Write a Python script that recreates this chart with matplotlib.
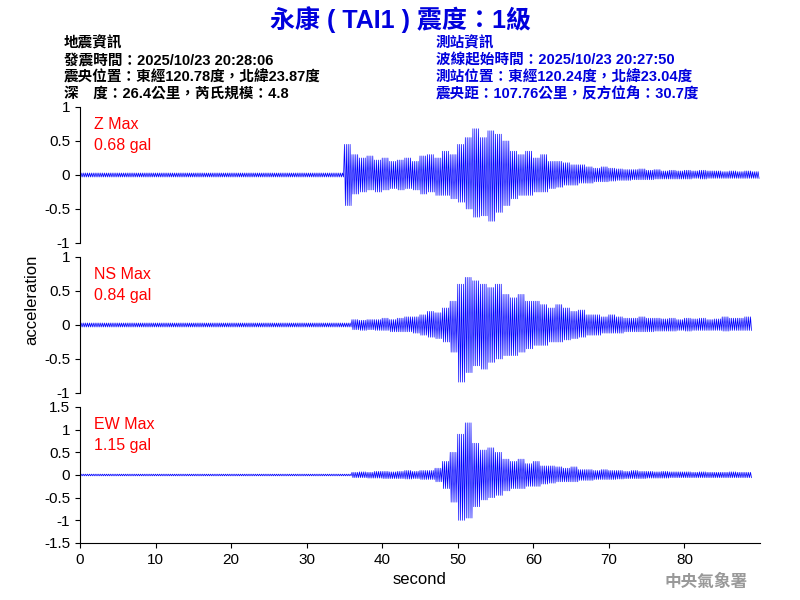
import numpy as np
import matplotlib.pyplot as plt

plt.rcParams['font.family'] = ['Liberation Sans', 'Noto Sans CJK TC', 'DejaVu Sans']

# per-second peak values (0..89 s)
z_max = ([0.03] * 35 + [0.45, 0.30, 0.25, 0.28, 0.22, 0.25, 0.20, 0.22, 0.25, 0.20,
         0.28, 0.30, 0.25, 0.35, 0.30, 0.45, 0.55, 0.68, 0.55, 0.65,
         0.60, 0.50, 0.35, 0.30, 0.35, 0.25, 0.30, 0.20, 0.20, 0.18,
         0.15, 0.15, 0.12, 0.10, 0.12, 0.10, 0.09, 0.08, 0.08, 0.09,
         0.07, 0.08, 0.06, 0.07, 0.06, 0.07, 0.06, 0.07, 0.06, 0.06, 0.05, 0.06, 0.05, 0.06, 0.05])
z_min = ([-0.03] * 35 + [-0.45, -0.28, -0.25, -0.22, -0.25, -0.22, -0.20, -0.22, -0.20, -0.22,
         -0.28, -0.25, -0.30, -0.30, -0.35, -0.40, -0.50, -0.62, -0.60, -0.68,
         -0.55, -0.45, -0.35, -0.30, -0.30, -0.25, -0.25, -0.20, -0.18, -0.15,
         -0.15, -0.12, -0.12, -0.10, -0.10, -0.09, -0.08, -0.08, -0.07, -0.07,
         -0.07, -0.06, -0.06, -0.06, -0.06, -0.06, -0.05, -0.06, -0.05, -0.05, -0.05, -0.05, -0.05, -0.05, -0.05])
ns_max = ([0.03] * 36 + [0.08, 0.07, 0.08, 0.08, 0.10, 0.08, 0.10, 0.12, 0.12,
          0.15, 0.20, 0.18, 0.25, 0.35, 0.60, 0.70, 0.65, 0.60, 0.55,
          0.60, 0.45, 0.40, 0.45, 0.35, 0.35, 0.30, 0.25, 0.30, 0.25,
          0.20, 0.22, 0.15, 0.15, 0.12, 0.15, 0.12, 0.10, 0.10, 0.12,
          0.10, 0.10, 0.09, 0.10, 0.08, 0.10, 0.09, 0.10, 0.08, 0.09, 0.12, 0.10, 0.10, 0.12])
ns_min = ([-0.03] * 36 + [-0.07, -0.08, -0.07, -0.08, -0.08, -0.10, -0.10, -0.10, -0.12,
          -0.15, -0.18, -0.20, -0.25, -0.40, -0.84, -0.70, -0.60, -0.65, -0.55,
          -0.50, -0.45, -0.45, -0.40, -0.35, -0.30, -0.30, -0.25, -0.25, -0.22,
          -0.20, -0.18, -0.15, -0.15, -0.12, -0.12, -0.12, -0.10, -0.10, -0.10,
          -0.10, -0.09, -0.09, -0.09, -0.08, -0.09, -0.08, -0.08, -0.08, -0.08, -0.09, -0.08, -0.08, -0.08])
ew_max = ([0.02] * 36 + [0.06, 0.07, 0.06, 0.08, 0.08, 0.07, 0.08, 0.10, 0.08,
          0.10, 0.10, 0.15, 0.30, 0.50, 0.90, 1.15, 0.70, 0.55, 0.60,
          0.50, 0.35, 0.30, 0.35, 0.25, 0.30, 0.20, 0.20, 0.18, 0.15,
          0.18, 0.12, 0.12, 0.10, 0.12, 0.10, 0.10, 0.08, 0.10, 0.08,
          0.08, 0.07, 0.08, 0.07, 0.07, 0.07, 0.06, 0.07, 0.06, 0.06, 0.06, 0.07, 0.06, 0.06])
ew_min = ([-0.02] * 36 + [-0.06, -0.06, -0.07, -0.07, -0.08, -0.08, -0.08, -0.09, -0.08,
          -0.10, -0.10, -0.15, -0.30, -0.60, -1.00, -0.95, -0.70, -0.55, -0.50,
          -0.45, -0.35, -0.30, -0.30, -0.25, -0.25, -0.20, -0.18, -0.15, -0.15,
          -0.15, -0.12, -0.12, -0.10, -0.10, -0.10, -0.09, -0.08, -0.08, -0.08,
          -0.07, -0.07, -0.07, -0.06, -0.06, -0.06, -0.06, -0.06, -0.06, -0.06, -0.06, -0.06, -0.06, -0.06])

labels = ["Z Max\n0.68 gal", "NS Max\n0.84 gal", "EW Max\n1.15 gal"]
limits = [1.0, 1.0, 1.5]
ticks = [[-1, -0.5, 0, 0.5, 1], [-1, -0.5, 0, 0.5, 1], [-1.5, -1, -0.5, 0, 0.5, 1, 1.5]]
tick_txt = [["-1", "-0.5", "0", "0.5", "1"], ["-1", "-0.5", "0", "0.5", "1"],
            ["-1.5", "-1", "-0.5", "0", "0.5", "1", "1.5"]]


def zigzag(vmax, vmin, cycles=4):
    xs, ys = [], []
    for sec, (hi, lo) in enumerate(zip(vmax, vmin)):
        for k in range(cycles):
            xs += [sec + k / cycles, sec + (k + 0.5) / cycles]
            ys += [hi, lo]
    return xs, ys


fig = plt.figure(figsize=(8, 6), dpi=100)
bottoms = [0.595, 0.345, 0.095]
traces = [(z_max, z_min), (ns_max, ns_min), (ew_max, ew_min)]
for i, (b, (hi, lo)) in enumerate(zip(bottoms, traces)):
    ax = fig.add_axes([0.1, b, 0.85, 0.2267])
    xs, ys = zigzag(hi, lo)
    ax.plot(xs, ys, color="blue", lw=0.5)
    ax.set_xlim(0, 90)
    ax.set_ylim(-limits[i], limits[i])
    ax.set_yticks(ticks[i])
    ax.set_yticklabels(tick_txt[i], fontsize=11)
    ax.spines["top"].set_visible(False)
    ax.spines["right"].set_visible(False)
    ax.text(0.02, 0.93, labels[i], transform=ax.transAxes, color="red",
            fontsize=11.5, va="top", linespacing=1.5)
    if i < 2:
        ax.spines["bottom"].set_visible(False)
        ax.set_xticks([])
    else:
        ax.set_xticks(range(0, 90, 10))
        ax.set_xticklabels([str(v) for v in range(0, 90, 10)], fontsize=11)
        ax.set_xlabel("second", fontsize=12)

fig.text(0.04, 0.5, "acceleration", rotation=90, ha="center", va="center", fontsize=12)
fig.text(0.5, 0.968, "永康 ( TAI1 ) 震度：1級", ha="center", va="center",
         color="#0000dd", fontsize=18, fontweight="bold")
left = "地震資訊\n發震時間：2025/10/23 20:28:06\n震央位置：東經120.78度，北緯23.87度\n深　度：26.4公里，芮氏規模：4.8"
right = "測站資訊\n波線起始時間：2025/10/23 20:27:50\n測站位置：東經120.24度，北緯23.04度\n震央距：107.76公里，反方位角：30.7度"
fig.text(0.08, 0.94, left, ha="left", va="top", fontsize=10.5, fontweight="bold",
         linespacing=1.25)
fig.text(0.545, 0.94, right, ha="left", va="top", fontsize=10.5, fontweight="bold",
         color="#0000dd", linespacing=1.25)
fig.text(0.935, 0.03, "中央氣象署", ha="right", va="center", color="#999999",
         fontsize=12, fontweight="bold")

fig.savefig("out.png", dpi=100)
